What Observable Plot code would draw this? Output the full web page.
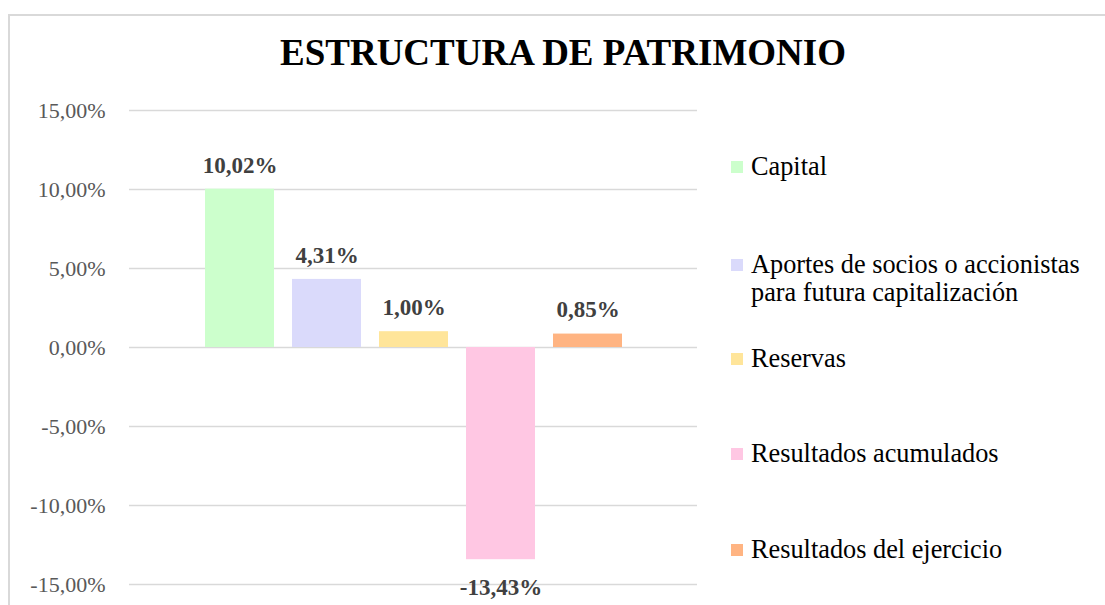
<!DOCTYPE html>
<html>
<head>
<meta charset="utf-8">
<script src="https://cdn.jsdelivr.net/npm/d3@7"></script>
<script src="https://cdn.jsdelivr.net/npm/@observablehq/plot@0.6"></script>
<style>
  html, body { margin: 0; padding: 0; background: #fff; }
  body { width: 1105px; height: 605px; position: relative; overflow: hidden; font-family: "Liberation Serif", "Times New Roman", serif; }
  #frame { position: absolute; left: 8px; top: 14px; width: 1200px; height: 700px; border: 2px solid #d9d9d9; box-sizing: border-box; }
  #chart { position: absolute; left: 0; top: 0; }
  #title { position: absolute; left: 0; width: 1126px; top: 31px; text-align: center; font-weight: bold; font-size: 37px; color: #000; white-space: nowrap; }
  #legend { position: absolute; left: 731px; top: 0; }
  .item { position: absolute; left: 0; display: flex; align-items: flex-start; font-size: 26.3px; line-height: 28px; color: #000; white-space: nowrap; }
  .sw { width: 12px; height: 12px; margin-right: 8px; margin-top: 8px; flex: none; }
</style>
</head>
<body>
<div id="frame"></div>
<div id="chart"></div>
<div id="title">ESTRUCTURA DE PATRIMONIO</div>
<div id="legend"></div>
<script>
const categories = ["Capital", "Aportes de socios o accionistas para futura capitalización", "Reservas", "Resultados acumulados", "Resultados del ejercicio"];
const legendLines = [["Capital"], ["Aportes de socios o accionistas", "para futura capitalización"], ["Reservas"], ["Resultados acumulados"], ["Resultados del ejercicio"]];
const values = [10.02, 4.31, 1.00, -13.43, 0.85];
const colors = ["#ccffcc", "#dadafb", "#ffe59a", "#ffc7e3", "#ffb482"];
const yTicks = [-15, -10, -5, 0, 5, 10, 15];

const data = categories.map((c, i) => ({ name: c, value: values[i] }));
const fmt = v => v.toFixed(2).replace(".", ",") + "%";

const chart = Plot.plot({
  width: 1105,
  height: 605,
  marginLeft: 129,
  marginRight: 408,
  marginTop: 110,
  marginBottom: 21,
  style: { fontFamily: "'Liberation Serif', 'Times New Roman', serif", background: "transparent" },
  x: { type: "band", domain: categories, paddingInner: 0.21, paddingOuter: 0.86, axis: null },
  y: { domain: [-15, 15], ticks: yTicks, tickFormat: fmt, tickSize: 0, tickPadding: 24, label: null },
  color: { domain: categories, range: colors },
  marks: [
    Plot.ruleY(yTicks, { stroke: "#d9d9d9", strokeWidth: 1.5 }),
    Plot.axisY({ ticks: yTicks, tickFormat: fmt, tickSize: 0, tickPadding: 24, fontSize: 22, fill: "#595959", label: null }),
    Plot.barY(data, { x: "name", y: "value", fill: "name" }),
    Plot.text(data.filter(d => d.value >= 0), { x: "name", y: "value", text: d => fmt(d.value), dy: -24, fontSize: 23, fontWeight: "bold", fill: "#404040", lineAnchor: "middle" }),
    Plot.text(data.filter(d => d.value < 0), { x: "name", y: "value", text: d => fmt(d.value), dy: 28, fontSize: 23, fontWeight: "bold", fill: "#404040", lineAnchor: "middle" })
  ]
});
document.getElementById("chart").appendChild(chart);

const legendTops = [153, 251, 345, 440, 536];
const legend = document.getElementById("legend");
legendLines.forEach((lines, i) => {
  const item = document.createElement("div");
  item.className = "item";
  item.style.top = legendTops[i] + "px";
  const sw = document.createElement("div");
  sw.className = "sw";
  sw.style.background = colors[i];
  const txt = document.createElement("div");
  txt.innerHTML = lines.join("<br>");
  item.appendChild(sw);
  item.appendChild(txt);
  legend.appendChild(item);
});
</script>
</body>
</html>
